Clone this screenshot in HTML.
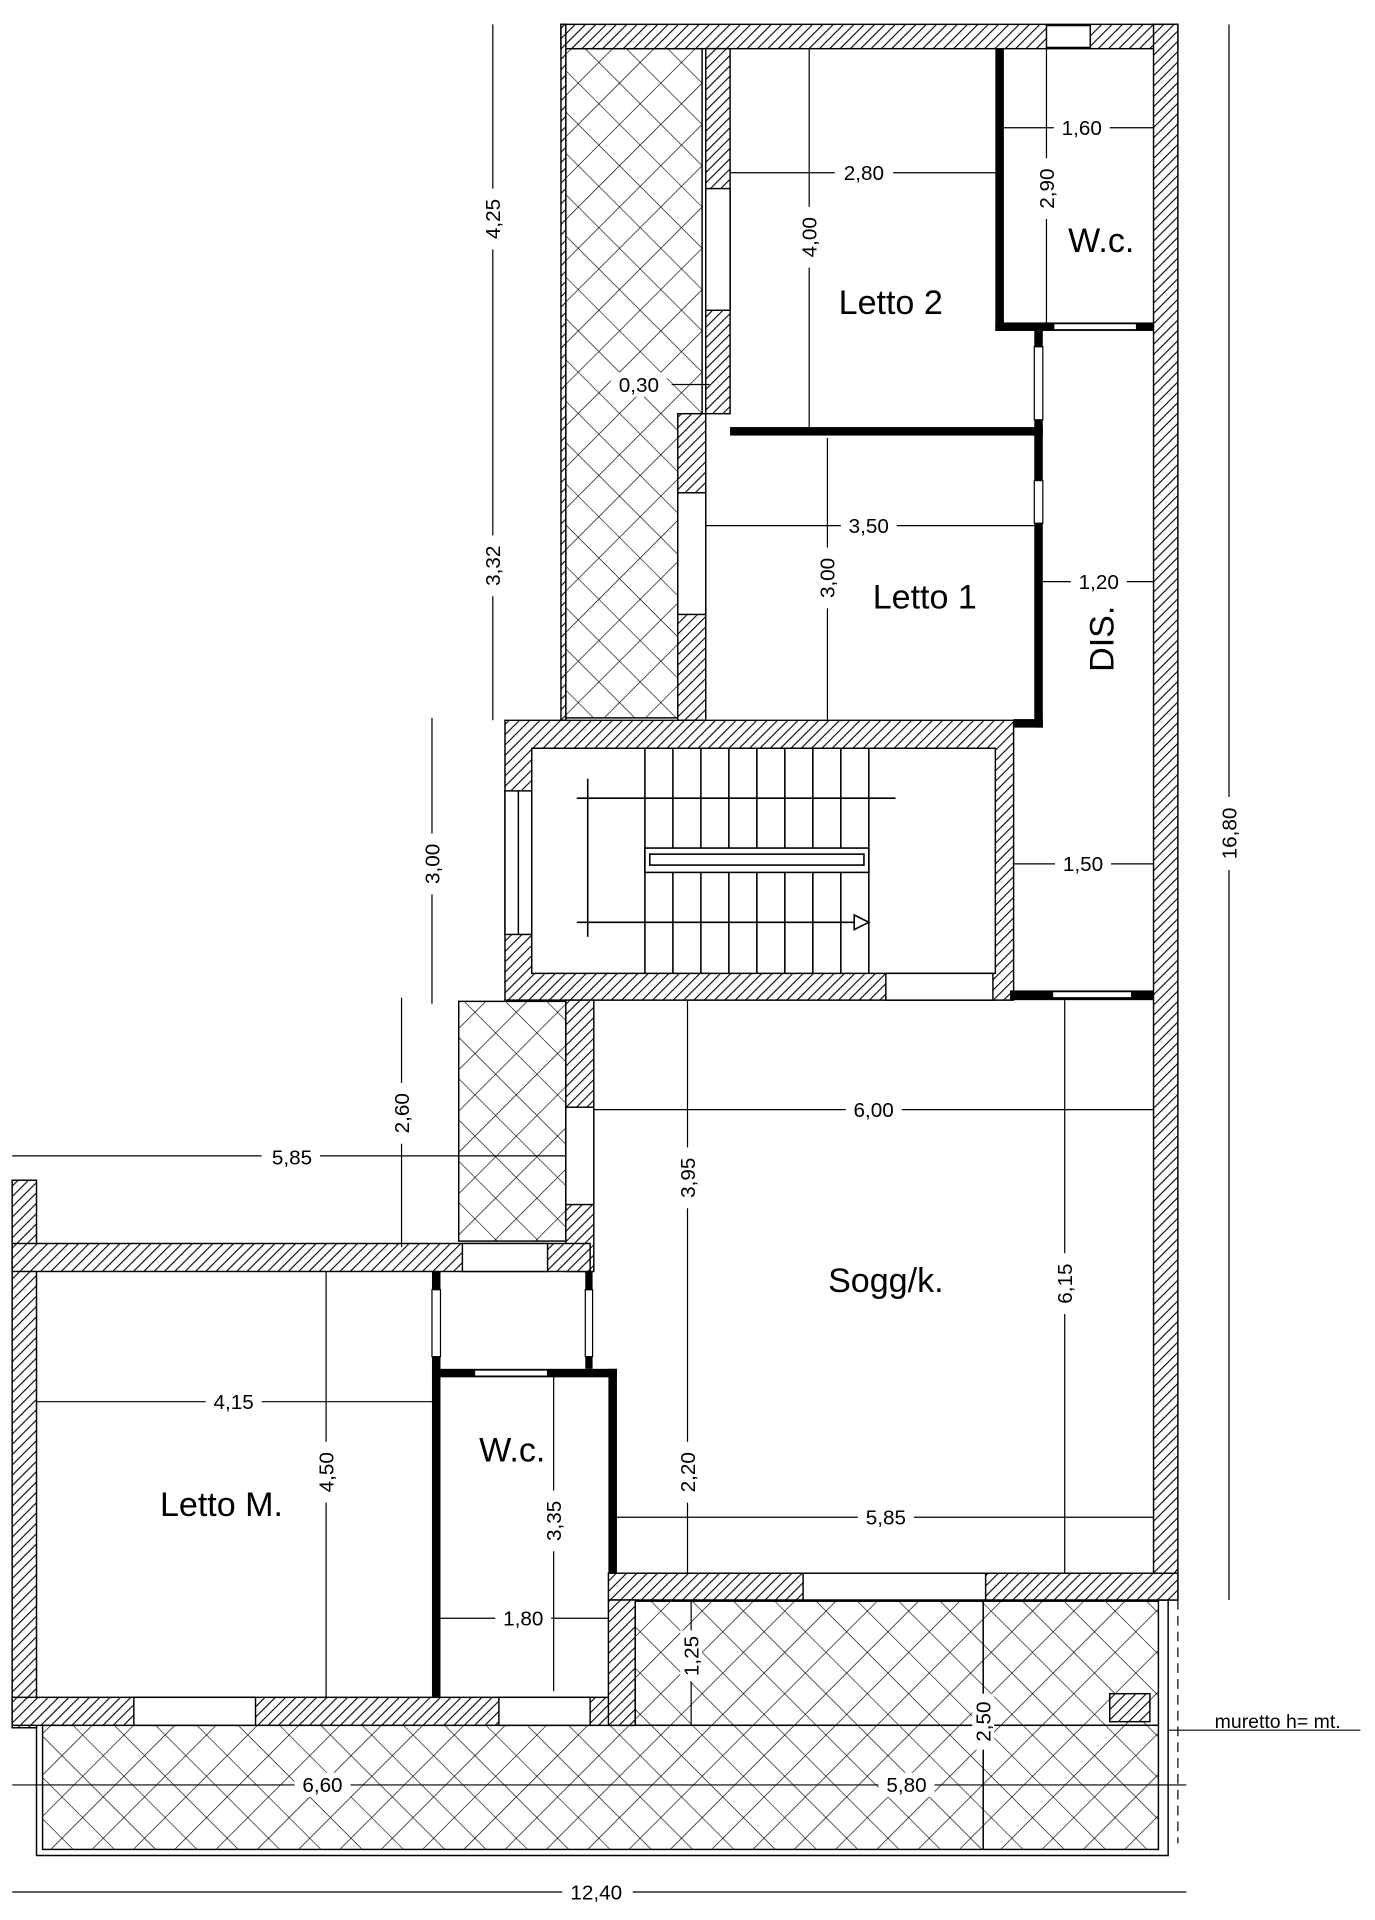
<!DOCTYPE html>
<html><head><meta charset="utf-8">
<style>
html,body{margin:0;padding:0;background:#fff;}
svg{display:block;}
text{font-family:"Liberation Sans",sans-serif;fill:#000;}
.d{font-size:17px;}
.r{font-size:28px;}
</style></head>
<body>
<svg width="1375" height="1920" viewBox="0 0 1130 1578" preserveAspectRatio="none" xmlns="http://www.w3.org/2000/svg">
<defs>
<pattern id="h" width="6" height="6" patternUnits="userSpaceOnUse" patternTransform="rotate(45)">
<rect width="6" height="6" fill="#fff"/><line x1="0" y1="0" x2="0" y2="6" stroke="#000" stroke-width="1.8"/>
</pattern>
<pattern id="x" width="24" height="24" patternUnits="userSpaceOnUse" patternTransform="rotate(45)">
<rect width="24" height="24" fill="#fff"/><line x1="0" y1="0" x2="0" y2="24" stroke="#000" stroke-width="1.1"/><line x1="0" y1="0" x2="24" y2="0" stroke="#000" stroke-width="1.1"/>
</pattern>
</defs>
<g stroke="#000" stroke-width="1.2">
<rect x="465" y="40" width="112" height="550" fill="url(#x)"/>
<rect x="377" y="823" width="88" height="197" fill="url(#x)"/>
<rect x="522" y="1316" width="430" height="102" fill="url(#x)"/>
<rect x="35" y="1418" width="917" height="102" fill="url(#x)"/>
<path d="M522 1315H960V1525H30V1418" fill="none"/>
<line x1="808" y1="1315" x2="808" y2="1520"/>
<rect x="461" y="20" width="507" height="20" fill="url(#h)"/>
<rect x="948" y="20" width="20" height="1295" fill="url(#h)"/>
<rect x="461" y="20" width="4" height="572" fill="url(#h)"/>
<rect x="580" y="40" width="20" height="300" fill="url(#h)"/>
<rect x="557" y="340" width="23" height="252" fill="url(#h)"/>
<rect x="580" y="155" width="20" height="100" fill="#fff"/>
<rect x="557" y="405" width="23" height="100" fill="#fff"/>
<rect x="860" y="21" width="36" height="18" fill="#fff"/>
<path d="M415 592H833V822H415Z M437 615V800H818V615Z" fill="url(#h)" fill-rule="evenodd"/>
<rect x="415" y="650" width="22" height="118" fill="#fff"/>
<line x1="426" y1="650" x2="426" y2="768"/>
<rect x="728" y="800" width="88" height="22" fill="#fff"/>
<rect x="465" y="822" width="23" height="223" fill="url(#h)"/>
<rect x="465" y="910" width="23" height="80" fill="#fff"/>
<rect x="500" y="1293" width="468" height="22" fill="url(#h)"/>
<rect x="660" y="1293" width="150" height="22" fill="#fff"/>
<rect x="10" y="970" width="20" height="450" fill="url(#h)"/>
<rect x="10" y="1022" width="475" height="23" fill="url(#h)"/>
<rect x="380" y="1022" width="70" height="23" fill="#fff"/>
<rect x="10" y="1395" width="512" height="23" fill="url(#h)"/>
<rect x="110" y="1395" width="100" height="23" fill="#fff"/>
<rect x="410" y="1395" width="75" height="23" fill="#fff"/>
<rect x="500" y="1315" width="22" height="103" fill="url(#h)"/>
<rect x="912" y="1392" width="33" height="23" fill="url(#h)"/>
</g>
<g fill="#000">
<rect x="818" y="40" width="7" height="232"/>
<rect x="818" y="265" width="130" height="7"/>
<rect x="600" y="351" width="257" height="7"/>
<rect x="850" y="272" width="7" height="326"/>
<rect x="833" y="591" width="24" height="7"/>
<rect x="830" y="814" width="118" height="8"/>
<rect x="355" y="1045" width="7" height="350"/>
<rect x="355" y="1125" width="152" height="7"/>
<rect x="500" y="1125" width="7" height="168"/>
<rect x="481" y="1045" width="6" height="80"/>
</g>
<g fill="#fff" stroke="#000" stroke-width="1">
<rect x="866" y="266" width="68" height="5"/>
<rect x="850" y="285" width="7" height="60"/>
<rect x="850" y="395" width="7" height="35"/>
<rect x="865" y="815" width="65" height="5"/>
<rect x="355" y="1060" width="7" height="55"/>
<rect x="481" y="1060" width="6" height="55"/>
<rect x="390" y="1126" width="60" height="5"/>
</g>
<g stroke="#000" stroke-width="1.3" fill="none">
<line x1="530" y1="615" x2="530" y2="800"/>
<line x1="553" y1="615" x2="553" y2="800"/>
<line x1="576" y1="615" x2="576" y2="800"/>
<line x1="599" y1="615" x2="599" y2="800"/>
<line x1="622" y1="615" x2="622" y2="800"/>
<line x1="645" y1="615" x2="645" y2="800"/>
<line x1="668" y1="615" x2="668" y2="800"/>
<line x1="691" y1="615" x2="691" y2="800"/>
<line x1="714" y1="615" x2="714" y2="800"/>
<rect x="530" y="697" width="184" height="20" fill="#fff"/>
<rect x="534" y="702" width="176" height="9"/>
<line x1="474" y1="656" x2="736" y2="656"/>
<line x1="474" y1="758" x2="712" y2="758"/>
<line x1="483" y1="640" x2="483" y2="770"/>
<path d="M702 752L714 758L702 764Z" fill="#fff"/>
</g>
<g stroke="#000" stroke-width="1" fill="none">
<line x1="405" y1="20" x2="405" y2="592"/>
<line x1="355" y1="590" x2="355" y2="825"/>
<line x1="330" y1="820" x2="330" y2="1025"/>
<line x1="10" y1="950" x2="465" y2="950"/>
<line x1="1010" y1="20" x2="1010" y2="1315"/>
<line x1="10" y1="1555" x2="975" y2="1555"/>
<line x1="10" y1="1467" x2="975" y2="1467"/>
<line x1="600" y1="142" x2="820" y2="142"/>
<line x1="665" y1="40" x2="665" y2="355"/>
<line x1="825" y1="105" x2="948" y2="105"/>
<line x1="860" y1="40" x2="860" y2="268"/>
<line x1="552" y1="316" x2="583" y2="316"/>
<line x1="580" y1="432" x2="850" y2="432"/>
<line x1="680" y1="360" x2="680" y2="592"/>
<line x1="857" y1="478" x2="948" y2="478"/>
<line x1="833" y1="710" x2="948" y2="710"/>
<line x1="488" y1="912" x2="948" y2="912"/>
<line x1="565" y1="822" x2="565" y2="1293"/>
<line x1="507" y1="1247" x2="948" y2="1247"/>
<line x1="875" y1="822" x2="875" y2="1293"/>
<line x1="30" y1="1152" x2="355" y2="1152"/>
<line x1="268" y1="1045" x2="268" y2="1395"/>
<line x1="455" y1="1131" x2="455" y2="1390"/>
<line x1="362" y1="1330" x2="500" y2="1330"/>
<line x1="568" y1="1315" x2="568" y2="1418"/>
<line x1="808" y1="1315" x2="808" y2="1520"/>
<line x1="960" y1="1422" x2="1118" y2="1422"/>
<line x1="968" y1="1315" x2="968" y2="1515" stroke-dasharray="8,5"/>
</g>
<g class="d" text-anchor="middle">
<rect x="396" y="155" width="18" height="50" fill="#fff"/><text transform="translate(411,180) rotate(-90)">4,25</text>
<rect x="396" y="440" width="18" height="50" fill="#fff"/><text transform="translate(411,465) rotate(-90)">3,32</text>
<rect x="346" y="685" width="18" height="50" fill="#fff"/><text transform="translate(361,710) rotate(-90)">3,00</text>
<rect x="321" y="890" width="18" height="50" fill="#fff"/><text transform="translate(336,915) rotate(-90)">2,60</text>
<rect x="1001" y="655" width="18" height="60" fill="#fff"/><text transform="translate(1016,685) rotate(-90)">16,80</text>
<rect x="656" y="170" width="18" height="50" fill="#fff"/><text transform="translate(671,195) rotate(-90)">4,00</text>
<rect x="851" y="130" width="18" height="50" fill="#fff"/><text transform="translate(866,155) rotate(-90)">2,90</text>
<rect x="671" y="450" width="18" height="50" fill="#fff"/><text transform="translate(686,475) rotate(-90)">3,00</text>
<rect x="556" y="943" width="18" height="50" fill="#fff"/><text transform="translate(571,968) rotate(-90)">3,95</text>
<rect x="556" y="1185" width="18" height="50" fill="#fff"/><text transform="translate(571,1210) rotate(-90)">2,20</text>
<rect x="866" y="1030" width="18" height="50" fill="#fff"/><text transform="translate(881,1055) rotate(-90)">6,15</text>
<rect x="259" y="1185" width="18" height="50" fill="#fff"/><text transform="translate(274,1210) rotate(-90)">4,50</text>
<rect x="446" y="1225" width="18" height="50" fill="#fff"/><text transform="translate(461,1250) rotate(-90)">3,35</text>
<rect x="559" y="1340" width="18" height="42" fill="#fff"/><text transform="translate(574,1361) rotate(-90)">1,25</text>
<rect x="799" y="1392" width="18" height="46" fill="#fff"/><text transform="translate(814,1415) rotate(-90)">2,50</text>
<g>
<rect x="215" y="940" width="48" height="20" fill="#fff"/><text x="240" y="957">5,85</text>
<rect x="462" y="1545" width="58" height="20" fill="#fff"/><text x="490" y="1561">12,40</text>
<rect x="242" y="1457" width="46" height="20" fill="#fff"/><text x="265" y="1473">6,60</text>
<rect x="722" y="1457" width="46" height="20" fill="#fff"/><text x="745" y="1473">5,80</text>
<rect x="686" y="132" width="48" height="20" fill="#fff"/><text x="710" y="148">2,80</text>
<rect x="866" y="95" width="46" height="20" fill="#fff"/><text x="889" y="111">1,60</text>
<rect x="502" y="306" width="46" height="20" fill="#fff"/><text x="525" y="322">0,30</text>
<rect x="691" y="422" width="46" height="20" fill="#fff"/><text x="714" y="438">3,50</text>
<rect x="880" y="468" width="46" height="20" fill="#fff"/><text x="903" y="484">1,20</text>
<rect x="867" y="700" width="46" height="20" fill="#fff"/><text x="890" y="716">1,50</text>
<rect x="695" y="902" width="46" height="20" fill="#fff"/><text x="718" y="918">6,00</text>
<rect x="705" y="1237" width="46" height="20" fill="#fff"/><text x="728" y="1253">5,85</text>
<rect x="169" y="1142" width="46" height="20" fill="#fff"/><text x="192" y="1158">4,15</text>
<rect x="407" y="1320" width="46" height="20" fill="#fff"/><text x="430" y="1336">1,80</text>
</g>
<text x="1050" y="1420" font-size="16">muretto h= mt.</text>
</g>
<g class="r" text-anchor="middle">
<text x="732" y="258">Letto 2</text>
<text x="905" y="207">W.c.</text>
<text x="760" y="500">Letto 1</text>
<text transform="translate(915,525) rotate(-90)">DIS.</text>
<text x="728" y="1062">Sogg/k.</text>
<text x="182" y="1246">Letto M.</text>
<text x="421" y="1201">W.c.</text>
</g>
</svg>
</body></html>
